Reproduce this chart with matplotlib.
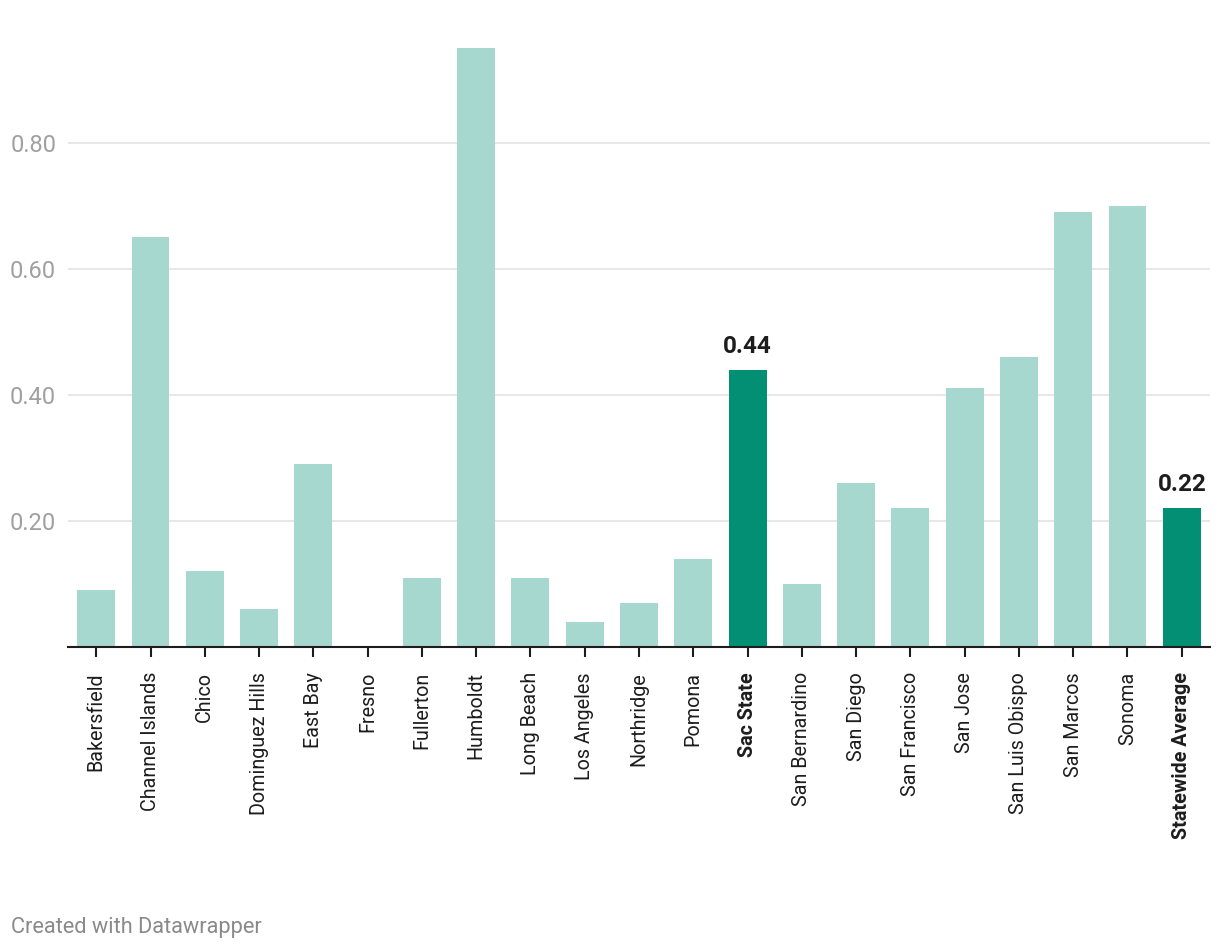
import matplotlib
matplotlib.use("Agg")
import matplotlib.pyplot as plt

categories = ["Bakersfield", "Channel Islands", "Chico", "Dominguez Hills", "East Bay",
              "Fresno", "Fullerton", "Humboldt", "Long Beach", "Los Angeles",
              "Northridge", "Pomona", "Sac State", "San Bernardino", "San Diego",
              "San Francisco", "San Jose", "San Luis Obispo", "San Marcos", "Sonoma",
              "Statewide Average"]
values = [0.09, 0.65, 0.12, 0.06, 0.29, 0.0, 0.11, 0.95, 0.11, 0.04, 0.07, 0.14,
          0.44, 0.10, 0.26, 0.22, 0.41, 0.46, 0.69, 0.70, 0.22]
highlight = ["Sac State", "Statewide Average"]
yticks = [0.2, 0.4, 0.6, 0.8]
ytick_labels = ["0.20", "0.40", "0.60", "0.80"]

plt.rcParams['font.family'] = ['Roboto', 'DejaVu Sans']

light = "#a7d8d0"
dark = "#038f74"

fig = plt.figure(figsize=(12.2, 9.52), dpi=100)
ax = fig.add_axes([68/1220, (952-647)/952, (1210-68)/1220, (647-48)/952])

x = list(range(len(categories)))
colors = [dark if c in highlight else light for c in categories]
ax.bar(x, values, width=0.70, color=colors, zorder=2)

for xi, c, v in zip(x, categories, values):
    if c in highlight:
        ax.text(xi, v + 0.019, f"{v:.2f}", ha="center", va="bottom",
                fontsize=17.5, fontweight="bold", color="#1d1d1d")

ax.set_xlim(-0.52, len(categories) - 0.48)
ax.set_ylim(0, 0.95)
ax.set_yticks(yticks)
ax.set_yticklabels(ytick_labels)
ax.yaxis.grid(True, color="#e5e5e5", linewidth=1.3, zorder=0)
ax.tick_params(axis="y", length=0, labelsize=17, labelcolor="#a0a0a0", pad=8.5)

ax.set_xticks(x)
ax.set_xticklabels(categories, rotation=90, fontsize=14.2, color="#1d1d1d")
for lab, c in zip(ax.get_xticklabels(), categories):
    if c in highlight:
        lab.set_fontweight("bold")
ax.tick_params(axis="x", length=7, width=1.5, color="#1d1d1d", pad=11)

for s in ["top", "right", "left"]:
    ax.spines[s].set_visible(False)
ax.spines["bottom"].set_color("#1d1d1d")
ax.spines["bottom"].set_linewidth(1.5)
ax.spines["bottom"].set_zorder(3)

fig.text(11/1220, 1 - 928/952, "Created with Datawrapper", fontsize=15.7,
         color="#8a8a8a", ha="left", va="center")

fig.savefig("out.png", dpi=100, facecolor="white")
